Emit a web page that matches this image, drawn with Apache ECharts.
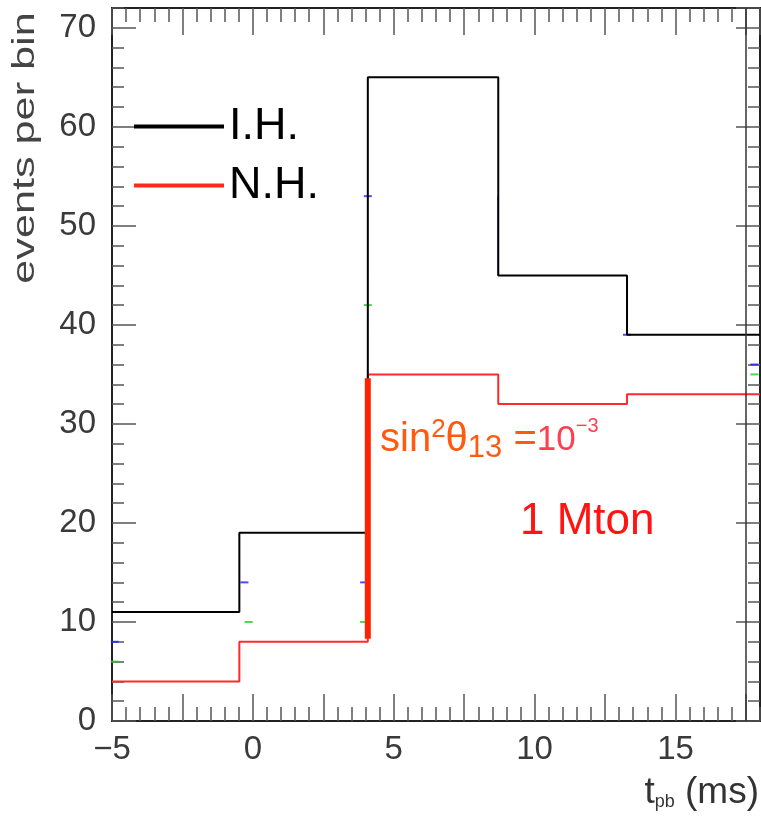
<!DOCTYPE html>
<html>
<head>
<meta charset="utf-8">
<script src="https://cdn.jsdelivr.net/npm/echarts@6/dist/echarts.min.js"></script>
<style>html,body{margin:0;padding:0;background:#fff}#main{width:761px;height:817px}</style>
</head>
<body>
<div id="main"></div>
<script>
var myChart = echarts.init(document.getElementById('main'));

// bin edges (ms) and bin contents
const binEdges = [-5, -0.48, 4.08, 8.71, 13.28, 18];
const ihCounts = [11, 19, 65, 45, 39];
const nhCounts = [4, 8, 35, 32, 33];
// thick red bar on the rising edge of N.H.
const nhJump = [[4.08, 8.3], [4.08, 34.6]];
// little coloured leftovers on the bin edges
const blueMarks = [[-4.9, 8], [-0.3, 14], [3.95, 14], [4.08, 53], [13.28, 39], [17.8, 36]];
const greenMarks = [[-4.9, 6], [-0.15, 10], [3.95, 10], [4.08, 42], [17.8, 35]];
const blueEdge = [[8.71, 45], [8.71, 53]];

const font = 'Liberation Sans, Arial, sans-serif';

function steps(counts) {
  var pts = counts.map(function (c, i) { return [binEdges[i], c]; });
  pts.push([binEdges[binEdges.length - 1], counts[counts.length - 1]]);
  return pts;
}

function xAx(pos, interval, len, labels) {
  return {
    type: 'value', position: pos, min: -5, max: 18, interval: interval,
    axisLine: { onZero: false, lineStyle: { color: '#222', width: 2 } },
    axisTick: { inside: true, length: len, lineStyle: { color: '#555', width: 1.5 } },
    axisLabel: labels ? {
      margin: 12, fontSize: 33, fontFamily: font, color: '#3a3a3a',
      showMaxLabel: false,
      formatter: function (v) {
        if (v % 5 !== 0) return '';
        return v < 0 ? '\u2212' + (-v) : String(v);
      }
    } : { show: false },
    splitLine: { show: false }
  };
}

function yAx(pos, interval, len, labels) {
  return {
    type: 'value', position: pos, min: 0, max: 72, interval: interval,
    axisLine: { onZero: false, lineStyle: { color: '#222', width: 2 } },
    axisTick: { inside: true, length: len, lineStyle: { color: '#555', width: 1.5 } },
    axisLabel: labels ? {
      margin: 16, fontSize: 33, fontFamily: font, color: '#3a3a3a', showMaxLabel: false
    } : { show: false },
    splitLine: { show: false }
  };
}

const option = {
  animation: false,
  grid: { left: 112, top: 8, right: 1, bottom: 96 },
  xAxis: [
    xAx('bottom', 2.5, 27, true),
    xAx('bottom', 0.5, 14, false),
    xAx('top', 2.5, 27, false),
    xAx('top', 0.5, 14, false)
  ],
  yAxis: [
    yAx('left', 10, 24, true),
    yAx('left', 2, 12, false),
    yAx('right', 10, 24, false),
    yAx('right', 2, 12, false)
  ],
  legend: {
    orient: 'vertical', left: 129, top: 99,
    itemWidth: 90, itemHeight: 4, itemGap: 14,
    textStyle: { fontSize: 45, fontFamily: font, color: '#000' },
    data: [{ name: 'I.H.', icon: 'rect' }, { name: 'N.H.', icon: 'rect' }]
  },
  series: [
    {
      name: 'N.H.', type: 'line', step: 'end', showSymbol: false,
      data: steps(nhCounts),
      itemStyle: { color: '#ff2b1a' },
      lineStyle: { color: '#ff2b2b', width: 2 },
      z: 3
    },
    {
      name: 'I.H.', type: 'line', step: 'end', showSymbol: false,
      data: steps(ihCounts),
      itemStyle: { color: '#000' },
      lineStyle: { color: '#000', width: 2 },
      z: 4,
      markLine: {
        symbol: 'none', silent: true, label: { show: false },
        lineStyle: { color: '#333', width: 1.5, type: 'solid' },
        data: [{ xAxis: 17.5 }]
      }
    },
    {
      name: 'jump', type: 'line', showSymbol: false, data: nhJump,
      lineStyle: { color: '#ff2200', width: 6 }, z: 5
    },
    {
      name: 'blueEdge', type: 'line', showSymbol: false, data: blueEdge,
      lineStyle: { color: '#2020ff', width: 1.5 }, z: 3
    },
    {
      name: 'blue', type: 'scatter', symbol: 'rect', symbolSize: [8, 2],
      data: blueMarks, itemStyle: { color: '#2020ff' }, z: 2
    },
    {
      name: 'green', type: 'scatter', symbol: 'rect', symbolSize: [8, 2],
      data: greenMarks, itemStyle: { color: '#22cc22' }, z: 2
    }
  ],
  graphic: [
    {
      type: 'text', x: 25, y: 148, rotation: Math.PI / 2, scaleX: 1.35,
      style: {
        text: 'events per bin', fontSize: 32, fontFamily: font, fill: '#444',
        align: 'center', verticalAlign: 'middle'
      }
    },
    {
      type: 'text', x: 759, y: 793,
      style: {
        text: 't{s|pb} (ms)', fontSize: 37, fontFamily: font, fill: '#333',
        align: 'right', verticalAlign: 'middle',
        rich: { s: { fontSize: 18, fontFamily: font, fill: '#333', verticalAlign: 'bottom', padding: [14, 0, 0, 0] } }
      }
    },
    {
      type: 'text', x: 380, y: 440,
      style: {
        text: 'sin{sup|2}\u03b8{sub|13} ={b|10}{bsup|\u22123}',
        fontSize: 40, fontFamily: font, fill: '#ff5a10',
        align: 'left', verticalAlign: 'middle',
        rich: {
          sup: { fontSize: 26, fontFamily: font, fill: '#ff5a10', verticalAlign: 'top', padding: [0, 0, 16, 0] },
          sub: { fontSize: 31, fontFamily: font, fill: '#ff5a10', verticalAlign: 'bottom', padding: [16, 0, 0, 0] },
          b: { fontSize: 35, fontFamily: font, fill: '#ff4050' },
          bsup: { fontSize: 20, fontFamily: font, fill: '#ff4050', verticalAlign: 'top', padding: [0, 0, 18, 0] }
        }
      }
    },
    {
      type: 'text', x: 520, y: 522,
      style: {
        text: '1 Mton', fontSize: 44, fontFamily: font, fill: '#ff1414',
        align: 'left', verticalAlign: 'middle'
      }
    }
  ]
};

myChart.setOption(option);
</script>
</body>
</html>
